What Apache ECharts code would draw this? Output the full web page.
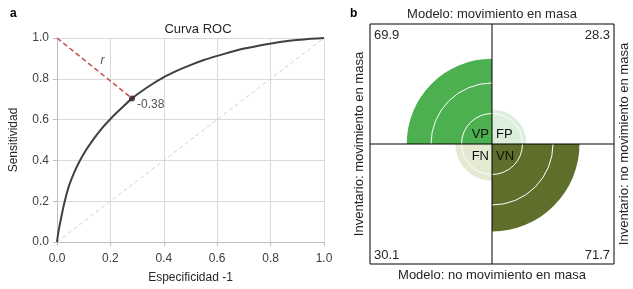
<!DOCTYPE html>
<html>
<head>
<meta charset="utf-8">
<script src="https://cdn.jsdelivr.net/npm/echarts@6/dist/echarts.min.js"></script>
<style>
  html, body { margin: 0; padding: 0; background: #fff; }
  #main { width: 633px; height: 289px; }
</style>
</head>
<body>
<div id="main"></div>
<script>
// ROC curve
var rocX = [0, 0.003, 0.007, 0.015, 0.022, 0.029, 0.038, 0.048, 0.065, 0.085, 0.11, 0.135, 0.165, 0.2, 0.24, 0.281,
            0.34, 0.397, 0.45, 0.497, 0.55, 0.597, 0.65, 0.697, 0.75, 0.797, 0.85, 0.897, 0.95, 1.0];
var rocY = [0, 0.03, 0.062, 0.115, 0.16, 0.2, 0.245, 0.287, 0.343, 0.397, 0.453, 0.501, 0.552, 0.603, 0.654, 0.704,
            0.76, 0.806, 0.84, 0.866, 0.892, 0.911, 0.931, 0.947, 0.961, 0.972, 0.983, 0.99, 0.996, 1.0];
var optimalPoint = [0.281, 0.704];
var optimalLabel = '-0.38';

// fourfold plot
var cells = ['FP', 'VN', 'FN', 'VP'];       // clockwise from 12 o'clock
var cellValues = [28.3, 71.7, 30.1, 69.9];
var cellColors = ['#dcefdc', '#5e6f2b', '#e3ead1', '#4caf50'];

var font = 'Liberation Sans';
var txt = '#262626';

var chart = echarts.init(document.getElementById('main'), null, { renderer: 'canvas' });

var rocData = rocX.map(function (x, i) { return [x, rocY[i]]; });

var cx = 492, cy = 144;
var boxL = 370, boxR = 614, boxT = 24, boxB = 264;

var graphics = [
    { type: 'text', x: 10, y: 14, style: { text: 'a', font: 'bold 12px ' + font, fill: '#000', verticalAlign: 'middle' } },
    { type: 'text', x: 350, y: 14, style: { text: 'b', font: 'bold 12px ' + font, fill: '#000', verticalAlign: 'middle' } },
    { type: 'rect', z: 100, shape: { x: boxL, y: boxT, width: boxR - boxL, height: boxB - boxT }, style: { fill: null, stroke: '#000', lineWidth: 1 } },
    { type: 'line', z: 100, shape: { x1: cx, y1: boxT, x2: cx, y2: boxB }, style: { stroke: '#000', lineWidth: 1 } },
    { type: 'line', z: 100, shape: { x1: boxL, y1: cy, x2: boxR, y2: cy }, style: { stroke: '#000', lineWidth: 1 } },
    { type: 'text', x: cx, y: 14, style: { text: 'Modelo: movimiento en masa', font: '13px ' + font, fill: txt, align: 'center', verticalAlign: 'middle' } },
    { type: 'text', x: cx, y: 275, style: { text: 'Modelo: no movimiento en masa', font: '13px ' + font, fill: txt, align: 'center', verticalAlign: 'middle' } },
    { type: 'text', x: 359, y: cy, rotation: Math.PI / 2, style: { text: 'Inventario: movimiento en masa', font: '13px ' + font, fill: txt, align: 'center', verticalAlign: 'middle' } },
    { type: 'text', x: 624, y: cy, rotation: Math.PI / 2, style: { text: 'Inventario: no movimiento en masa', font: '13px ' + font, fill: txt, align: 'center', verticalAlign: 'middle' } }
];

// corner values and centre tags, one per cell
var corner = {
    FP: { x: boxR - 4, y: boxT + 11, align: 'right' },
    VN: { x: boxR - 4, y: boxB - 9, align: 'right' },
    FN: { x: boxL + 4, y: boxB - 9, align: 'left' },
    VP: { x: boxL + 4, y: boxT + 11, align: 'left' }
};
var tag = {
    FP: { x: cx + 4, y: cy - 10, align: 'left' },
    VN: { x: cx + 4, y: cy + 12, align: 'left' },
    FN: { x: cx - 3, y: cy + 12, align: 'right' },
    VP: { x: cx - 3, y: cy - 10, align: 'right' }
};
cells.forEach(function (c, i) {
    graphics.push({ type: 'text', z: 101, x: corner[c].x, y: corner[c].y,
        style: { text: cellValues[i].toFixed(1), font: '13px ' + font, fill: txt, align: corner[c].align, verticalAlign: 'middle' } });
    graphics.push({ type: 'text', z: 101, x: tag[c].x, y: tag[c].y,
        style: { text: c, font: '13px ' + font, fill: '#111', align: tag[c].align, verticalAlign: 'middle' } });
});

var option = {
    backgroundColor: '#ffffff',
    animation: false,
    textStyle: { fontFamily: font },
    title: {
        text: 'Curva ROC',
        left: 193, top: 18, textAlign: 'center',
        textStyle: { fontSize: 13, fontWeight: 'normal', color: txt, fontFamily: font }
    },
    grid: { left: 57, right: 309, top: 38, bottom: 45 },
    xAxis: {
        type: 'value', min: 0, max: 1, interval: 0.2,
        name: 'Especificidad -1', nameLocation: 'middle', nameGap: 30,
        nameTextStyle: { fontSize: 12, color: txt },
        axisLine: { lineStyle: { color: '#bfbfbf' } },
        axisTick: { show: true, length: 4, lineStyle: { color: '#bfbfbf' } },
        axisLabel: { fontSize: 12, color: '#404040', margin: 11, formatter: function (v) { return v.toFixed(1); } },
        splitLine: { lineStyle: { color: '#d9d9d9' } }
    },
    yAxis: {
        type: 'value', min: 0, max: 1, interval: 0.2,
        name: 'Sensitividad', nameLocation: 'middle', nameGap: 37,
        nameTextStyle: { fontSize: 12, color: txt },
        axisLine: { show: true, lineStyle: { color: '#bfbfbf' } },
        axisTick: { show: true, length: 4, lineStyle: { color: '#bfbfbf' } },
        axisLabel: { fontSize: 12, color: '#404040', margin: 8, formatter: function (v) { return v.toFixed(1); } },
        splitLine: { lineStyle: { color: '#d9d9d9' } }
    },
    polar: { center: [cx, cy], radius: 91.5 },
    angleAxis: {
        type: 'category', data: cells, startAngle: 90,
        axisLine: { show: false }, axisTick: { show: false },
        axisLabel: { show: false }, splitLine: { show: false }
    },
    radiusAxis: {
        type: 'value', min: 0, max: 75, interval: 25, z: 5,
        axisLine: { show: false }, axisTick: { show: false },
        axisLabel: { show: false },
        splitLine: { show: true, lineStyle: { color: '#ffffff', width: 1 } }
    },
    graphic: graphics,
    series: [
        {
            type: 'line', data: [[0, 0], [1, 1]], symbol: 'none', silent: true,
            lineStyle: { color: '#d0d0d0', width: 1, type: [4, 3] }
        },
        {
            type: 'line', data: [[0, 1], optimalPoint], symbol: 'none', silent: true,
            lineStyle: { color: '#c0504d', width: 1.5, type: [5, 3] }
        },
        {
            type: 'line', data: rocData, smooth: 0.2, symbol: 'none',
            lineStyle: { color: '#404040', width: 2 }
        },
        {
            type: 'scatter', data: [optimalPoint], symbolSize: 6, z: 5,
            itemStyle: { color: '#3b1f1f' },
            label: { show: true, position: [8, 3], formatter: optimalLabel, fontSize: 12, color: '#262626' }
        },
        {
            type: 'scatter', data: [[0.17, 0.89]], symbolSize: 0,
            label: { show: true, position: 'inside', formatter: 'r', fontSize: 12, fontStyle: 'italic', color: '#262626' }
        },
        {
            type: 'bar', coordinateSystem: 'polar', barCategoryGap: '0%',
            data: cellValues.map(function (v, i) { return { value: v, itemStyle: { color: cellColors[i] } }; })
        }
    ]
};

chart.setOption(option);
</script>
</body>
</html>
